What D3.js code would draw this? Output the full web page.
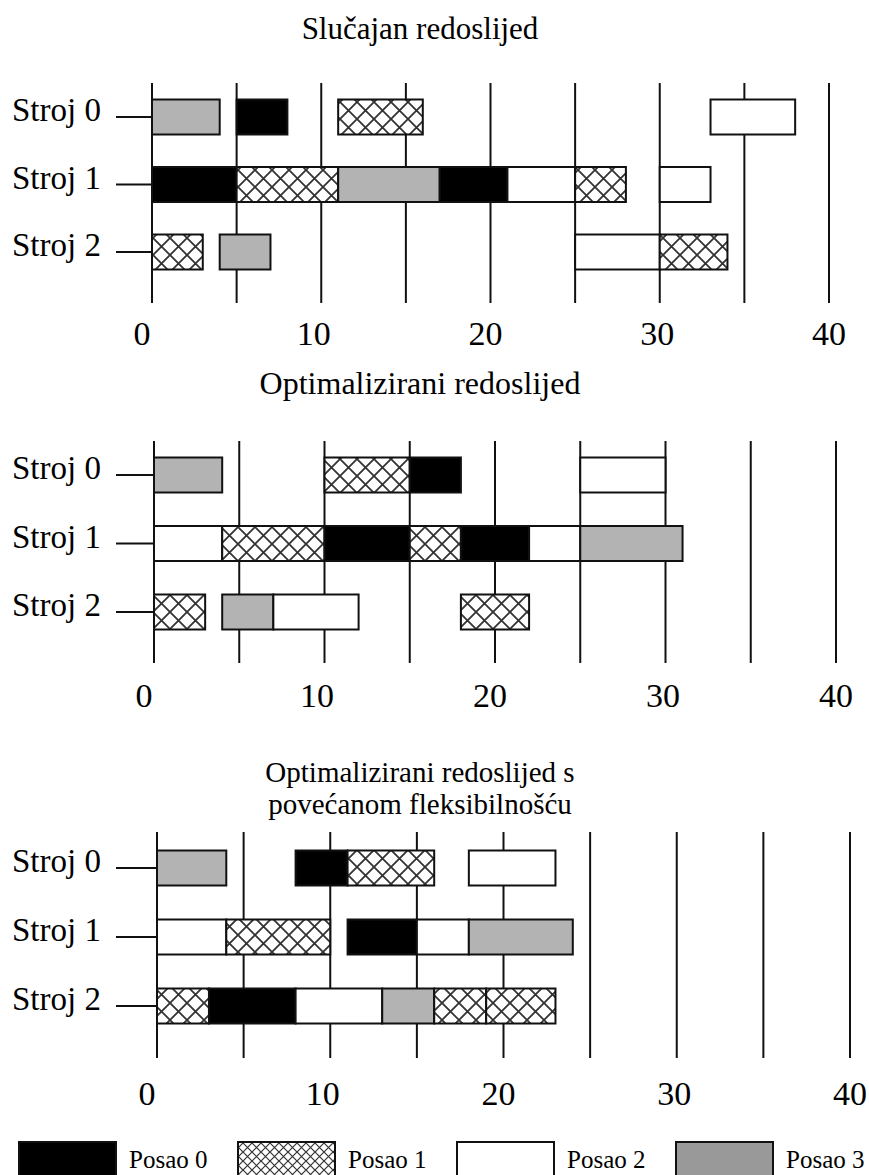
<!DOCTYPE html>
<html>
<head>
<meta charset="utf-8">
<script src="https://cdn.jsdelivr.net/npm/d3@7"></script>
<style>
  html, body { margin: 0; padding: 0; background: #fff; }
  svg { display: block; }
  text { font-family: "Liberation Serif", "Times New Roman", serif; fill: #000; }
</style>
</head>
<body>
<svg id="chart" width="869" height="1175"></svg>
<script>
// ---------------- DATA ----------------
const machines = ["Stroj 0", "Stroj 1", "Stroj 2"];
const jobs = ["Posao 0", "Posao 1", "Posao 2", "Posao 3"];
const tickValues = [0, 10, 20, 30, 40];
const gridValues = [0, 5, 10, 15, 20, 25, 30, 35, 40];

const titleRandom = ["Slučajan redoslijed"];
const titleOptimized = ["Optimalizirani redoslijed"];
const titleFlexible = ["Optimalizirani redoslijed s", "povećanom fleksibilnošću"];

// [machine, job, start, end]
const scheduleRandom = [
  [0, 3, 0, 4], [0, 0, 5, 8], [0, 1, 11, 16], [0, 2, 33, 38],
  [1, 0, 0, 5], [1, 1, 5, 11], [1, 3, 11, 17], [1, 0, 17, 21], [1, 2, 21, 25], [1, 1, 25, 28], [1, 2, 30, 33],
  [2, 1, 0, 3], [2, 3, 4, 7], [2, 2, 25, 30], [2, 1, 30, 34]
];
const scheduleOptimized = [
  [0, 3, 0, 4], [0, 1, 10, 15], [0, 0, 15, 18], [0, 2, 25, 30],
  [1, 2, 0, 4], [1, 1, 4, 10], [1, 0, 10, 15], [1, 1, 15, 18], [1, 0, 18, 22], [1, 2, 22, 25], [1, 3, 25, 31],
  [2, 1, 0, 3], [2, 3, 4, 7], [2, 2, 7, 12], [2, 1, 18, 22]
];
const scheduleFlexible = [
  [0, 3, 0, 4], [0, 0, 8, 11], [0, 1, 11, 16], [0, 2, 18, 23],
  [1, 2, 0, 4], [1, 1, 4, 10], [1, 0, 11, 15], [1, 2, 15, 18], [1, 3, 18, 24],
  [2, 1, 0, 3], [2, 0, 3, 8], [2, 2, 8, 13], [2, 3, 13, 16], [2, 1, 16, 19], [2, 1, 19, 23]
];

// ---------------- LAYOUT ----------------
const panels = [
  { title: titleRandom, data: scheduleRandom, titleY: [39], titleSize: 31, x0: 152, x1: 829, top: 83, bottom: 303, rows: [117, 252], tickY: 345 },
  { title: titleOptimized, data: scheduleOptimized, titleY: [394], titleSize: 32, x0: 154, x1: 836, top: 441, bottom: 663, rows: [475, 612], tickY: 707 },
  { title: titleFlexible, data: scheduleFlexible, titleY: [782, 814], titleSize: 29, x0: 157, x1: 850, top: 832, bottom: 1058, rows: [868, 1006], tickY: 1105 }
];
const barH = 35;
const fills = ["#000000", "url(#hatch)", "#ffffff", "#b3b3b3"];

const svg = d3.select("#chart");
const defs = svg.append("defs");

function makeHatch(id, size, sw) {
  const p = defs.append("pattern")
    .attr("id", id).attr("patternUnits", "userSpaceOnUse")
    .attr("width", size).attr("height", size);
  p.append("rect").attr("width", size).attr("height", size).attr("fill", "#fff");
  p.append("path")
    .attr("d", `M0,0L${size},${size}M${size},0L0,${size}`)
    .attr("stroke", "#333").attr("stroke-width", sw).attr("fill", "none");
}
makeHatch("hatch", 17, 1.8);
makeHatch("hatchSmall", 9, 1.2);

panels.forEach(p => {
  const g = svg.append("g");
  const x = d3.scaleLinear().domain([0, 40]).range([p.x0, p.x1]);
  const xLabel = d3.scaleLinear().domain([0, 40]).range([p.x0 - 10, p.x1]);
  const y = d3.scalePoint().domain(d3.range(machines.length)).range(p.rows);

  // title
  g.selectAll("text.title").data(p.title).join("text")
    .attr("class", "title")
    .attr("x", 420).attr("y", (d, i) => p.titleY[i])
    .attr("text-anchor", "middle").attr("font-size", p.titleSize)
    .text(d => d);

  // grid lines
  g.selectAll("line.grid").data(gridValues).join("line")
    .attr("class", "grid")
    .attr("x1", d => x(d)).attr("x2", d => x(d))
    .attr("y1", p.top).attr("y2", p.bottom)
    .attr("stroke", "#111").attr("stroke-width", 2);

  // tick labels
  g.selectAll("text.tick").data(tickValues).join("text")
    .attr("class", "tick")
    .attr("x", d => xLabel(d)).attr("y", p.tickY)
    .attr("text-anchor", "middle").attr("font-size", 34)
    .text(d => d);

  // machine labels and small ticks
  g.selectAll("line.mtick").data(d3.range(machines.length)).join("line")
    .attr("class", "mtick")
    .attr("x1", 116).attr("x2", p.x0)
    .attr("y1", d => y(d)).attr("y2", d => y(d))
    .attr("stroke", "#111").attr("stroke-width", 2);
  g.selectAll("text.mlabel").data(machines).join("text")
    .attr("class", "mlabel")
    .attr("x", 12).attr("y", (d, i) => y(i) + 4)
    .attr("font-size", 33)
    .text(d => d);

  // bars
  g.selectAll("rect.bar").data(p.data).join("rect")
    .attr("class", "bar")
    .attr("x", d => x(d[2])).attr("width", d => x(d[3]) - x(d[2]))
    .attr("y", d => y(d[0]) - barH / 2).attr("height", barH)
    .attr("fill", d => fills[d[1]])
    .attr("stroke", "#111").attr("stroke-width", 2);
});

// ---------------- LEGEND ----------------
const legendFills = ["#000000", "url(#hatchSmall)", "#ffffff", "#999999"];
const legendX = d3.scalePoint().domain(jobs).range([19, 676]);
const lg = svg.append("g");
lg.selectAll("rect").data(jobs).join("rect")
  .attr("x", d => legendX(d)).attr("y", 1142)
  .attr("width", 97).attr("height", 40)
  .attr("fill", (d, i) => legendFills[i])
  .attr("stroke", "#111").attr("stroke-width", 2);
lg.selectAll("text").data(jobs).join("text")
  .attr("x", d => legendX(d) + 110).attr("y", 1168)
  .attr("font-size", 25)
  .text(d => d);
</script>
</body>
</html>
